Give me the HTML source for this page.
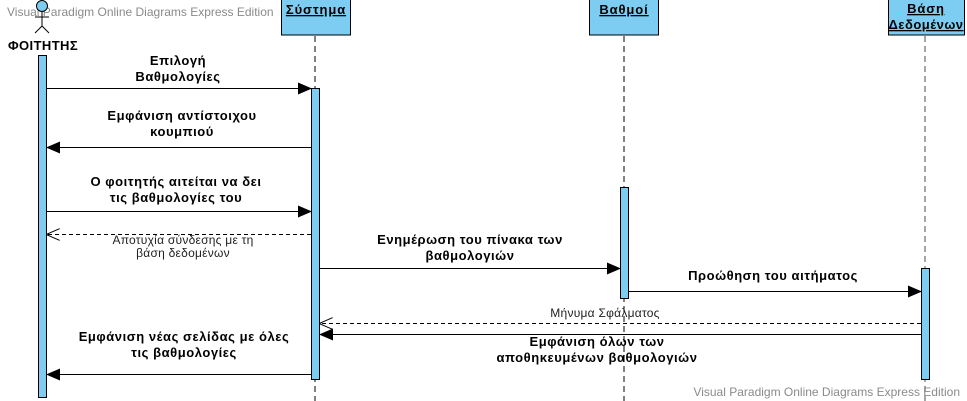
<!DOCTYPE html>
<html><head><meta charset="utf-8"><style>
html,body{margin:0;padding:0;background:#fff;}
svg{display:block;}
text{font-family:"Liberation Sans","DejaVu Sans",sans-serif;}
.b{font-weight:bold;font-size:13px;letter-spacing:0.55px;fill:#000;}
.t{font-weight:bold;font-size:13px;letter-spacing:0.9px;fill:#000;}
.n{font-size:12px;letter-spacing:0.25px;fill:#222;}
.w{font-size:12px;fill:#8a8a8a;}
</style></head><body>
<svg width="967" height="401" viewBox="0 0 967 401" xmlns="http://www.w3.org/2000/svg">
<defs>
<marker id="f" markerWidth="14" markerHeight="12" refX="13" refY="6" orient="auto" markerUnits="userSpaceOnUse">
<path d="M0,0 L14,6 L0,12 Z" fill="#000"/></marker>
<marker id="o" markerWidth="14" markerHeight="12" refX="13" refY="6" orient="auto" markerUnits="userSpaceOnUse">
<path d="M0,0 L14,6 L0,12" fill="none" stroke="#000" stroke-width="1"/></marker>
</defs>

<text x="7" y="16" class="w">Visual Paradigm Online Diagrams Express Edition</text>
<text x="960" y="396" class="w" text-anchor="end">Visual Paradigm Online Diagrams Express Edition</text>

<line x1="315" y1="36" x2="315" y2="401" stroke="#000" stroke-dasharray="6,4"/>
<line x1="624" y1="36" x2="624" y2="401" stroke="#000" stroke-dasharray="6,4"/>
<line x1="925" y1="36" x2="925" y2="401" stroke="#888" stroke-width="1.5" stroke-dasharray="6,4"/>

<circle cx="42" cy="6" r="5.5" fill="#7dcdf3" stroke="#000"/>
<line x1="42" y1="11.5" x2="42" y2="26" stroke="#000"/>
<line x1="35" y1="17" x2="49" y2="17" stroke="#000"/>
<line x1="42" y1="26" x2="35" y2="33" stroke="#000"/>
<line x1="42" y1="26" x2="49" y2="33" stroke="#000"/>
<text x="43" y="50" class="b" style="letter-spacing:0.4px" text-anchor="middle">ΦΟΙΤΗΤΗΣ</text>

<rect x="281.5" y="-1" width="69" height="36" fill="#7dcdf3" stroke="#000"/>
<text x="316" y="14" class="t" text-anchor="middle" text-decoration="underline">Σύστημα</text>
<rect x="589.5" y="-1" width="69" height="36" fill="#7dcdf3" stroke="#000"/>
<text x="624" y="14" class="t" text-anchor="middle" text-decoration="underline">Βαθμοί</text>
<rect x="888.5" y="-1" width="76" height="36" fill="#7dcdf3" stroke="#000"/>
<text x="926" y="13" class="t" text-anchor="middle" text-decoration="underline">Βάση</text>
<text x="926" y="29" class="t" style="letter-spacing:0.5px" text-anchor="middle" text-decoration="underline">Δεδομένων</text>

<rect x="38.5" y="55.5" width="8" height="342" fill="#7dcdf3" stroke="#000"/>
<rect x="311.5" y="88.5" width="8" height="291" fill="#7dcdf3" stroke="#000"/>
<rect x="620.5" y="187.5" width="8" height="111" fill="#7dcdf3" stroke="#000"/>
<rect x="921.5" y="268.5" width="8" height="111" fill="#7dcdf3" stroke="#000"/>

<line x1="47" y1="88.5" x2="311" y2="88.5" stroke="#000" marker-end="url(#f)"/>
<text x="178" y="65" class="b" text-anchor="middle">Επιλογή</text>
<text x="178" y="81" class="b" text-anchor="middle">Βαθμολογίες</text>

<line x1="311" y1="147.5" x2="47" y2="147.5" stroke="#000" marker-end="url(#f)"/>
<text x="182" y="120" class="b" text-anchor="middle">Εμφάνιση αντίστοιχου</text>
<text x="182" y="136" class="b" text-anchor="middle">κουμπιού</text>

<line x1="47" y1="211.5" x2="311" y2="211.5" stroke="#000" marker-end="url(#f)"/>
<text x="176" y="186" class="b" text-anchor="middle">Ο φοιτητής αιτείται να δει</text>
<text x="176" y="202" class="b" text-anchor="middle">τις βαθμολογίες του</text>

<line x1="311" y1="234.5" x2="47" y2="234.5" stroke="#000" stroke-dasharray="4,3" marker-end="url(#o)"/>
<text x="183" y="244" class="n" text-anchor="middle">Αποτυχία σύνδεσης με τη</text>
<text x="183" y="257" class="n" text-anchor="middle">βάση δεδομένων</text>

<line x1="320" y1="268.5" x2="620" y2="268.5" stroke="#000" marker-end="url(#f)"/>
<text x="470" y="244" class="b" text-anchor="middle">Ενημέρωση του πίνακα των</text>
<text x="470" y="260" class="b" text-anchor="middle">βαθμολογιών</text>

<line x1="629" y1="291.5" x2="921" y2="291.5" stroke="#000" marker-end="url(#f)"/>
<text x="773" y="280" class="b" text-anchor="middle">Προώθηση του αιτήματος</text>

<line x1="921" y1="323.5" x2="320" y2="323.5" stroke="#000" stroke-dasharray="4,3" marker-end="url(#o)"/>
<text x="605" y="317" class="n" text-anchor="middle">Μήνυμα Σφάλματος</text>

<line x1="921" y1="334.5" x2="320" y2="334.5" stroke="#000" marker-end="url(#f)"/>
<text x="597" y="346" class="b" text-anchor="middle">Εμφάνιση όλων των</text>
<text x="597" y="362" class="b" text-anchor="middle">αποθηκευμένων βαθμολογιών</text>

<line x1="311" y1="374.5" x2="47" y2="374.5" stroke="#000" marker-end="url(#f)"/>
<text x="184" y="341" class="b" text-anchor="middle">Εμφάνιση νέας σελίδας με όλες</text>
<text x="184" y="357" class="b" text-anchor="middle">τις βαθμολογίες</text>
</svg>
</body></html>
